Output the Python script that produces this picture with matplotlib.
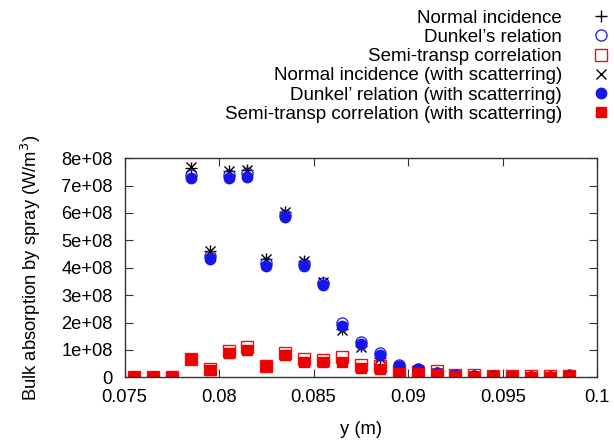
import matplotlib
matplotlib.use("Agg")
import matplotlib.pyplot as plt
from matplotlib.ticker import FixedLocator, FixedFormatter

plt.rcParams['font.family'] = ['Liberation Sans', 'DejaVu Sans']

# position along y (m)
y_pos = [0.0755, 0.0765, 0.0775, 0.0785, 0.0795, 0.0805, 0.0815, 0.0825,
         0.0835, 0.0845, 0.0855, 0.0865, 0.0875, 0.0885, 0.0895, 0.0905,
         0.0915, 0.0925, 0.0935, 0.0945, 0.0955, 0.0965, 0.0975, 0.0985]

# values in units of 1e8 W/m^3
normal = [0, 0, 0, 7.65, 4.60, 7.55, 7.57, 4.33, 6.02, 4.24, 3.47, 1.75,
          1.13, 0.70, 0.38, 0.27, 0.16, 0.08, 0.06, 0.04, 0.03, 0.02, 0.02, 0.06]
dunkel = [0, 0, 0, 7.39, 4.44, 7.39, 7.47, 4.16, 5.93, 4.15, 3.43, 1.97,
          1.30, 0.88, 0.45, 0.30, 0.17, 0.09, 0.06, 0.04, 0.03, 0.02, 0.02, 0.07]
semi = [0, 0, 0, 0.68, 0.29, 0.96, 1.12, 0.43, 0.88, 0.66, 0.63, 0.75,
        0.45, 0.41, 0.22, 0.18, 0.24, 0.10, 0.08, 0.05, 0.04, 0.04, 0.04, 0.04]
normal_sc = [0, 0, 0, 7.67, 4.62, 7.54, 7.57, 4.32, 6.02, 4.26, 3.49, 1.73,
             1.12, 0.69, 0.38, 0.27, 0.16, 0.08, 0.06, 0.04, 0.03, 0.02, 0.02, 0.06]
dunkel_sc = [0, 0, 0, 7.27, 4.32, 7.27, 7.30, 4.06, 5.84, 4.07, 3.37, 1.87,
             1.22, 0.81, 0.41, 0.29, 0.16, 0.08, 0.05, 0.03, 0.02, 0.02, 0.02, 0.06]
semi_sc = [0, 0, 0, 0.66, 0.27, 0.88, 1.00, 0.41, 0.81, 0.57, 0.57, 0.57,
           0.33, 0.30, 0.17, 0.15, 0.11, 0.04, 0.02, 0.02, 0.02, 0.02, 0.02, 0.02]

labels = ["Normal incidence", "Dunkel\u2019s relation", "Semi-transp correlation",
          "Normal incidence (with scatterring)", "Dunkel\u2019 relation (with scatterring)",
          "Semi-transp correlation (with scatterring)"]

x_ticks = [0.075, 0.08, 0.085, 0.09, 0.095, 0.1]
x_ticklabels = ["0.075", "0.08", "0.085", "0.09", "0.095", "0.1"]
y_ticks = [0, 1e8, 2e8, 3e8, 4e8, 5e8, 6e8, 7e8, 8e8]
y_ticklabels = ["0", "1e+08", "2e+08", "3e+08", "4e+08", "5e+08", "6e+08", "7e+08", "8e+08"]

FS = 13.2
LFS = 13.5
scale = 1e8
fig = plt.figure(figsize=(6.14, 4.43), dpi=100)
ax = fig.add_axes([124.5/614, 1-377.3/443, (597.3-124.5)/614, (377.3-158.2)/443])

def sc(v):
    return [a*scale for a in v]

h1, = ax.plot(y_pos, sc(normal), ls='none', marker='+', ms=8, mew=1.0, color='black', label=labels[0])
h2, = ax.plot(y_pos, sc(dunkel), ls='none', marker='o', ms=8, mew=1.0, mfc='none', mec='#2a2ae0', label=labels[1])
h3, = ax.plot(y_pos, sc(semi), ls='none', marker='s', ms=8, mew=1.0, mfc='none', mec='#ee1111', label=labels[2])
h4, = ax.plot(y_pos, sc(normal_sc), ls='none', marker='x', ms=7, mew=1.0, color='black', label=labels[3])
h5, = ax.plot(y_pos, sc(dunkel_sc), ls='none', marker='o', ms=7.5, color='#1515ee', label=labels[4])
h6, = ax.plot(y_pos, sc(semi_sc), ls='none', marker='s', ms=7.5, color='#ee0000', label=labels[5])

ax.set_xlim(0.075, 0.1)
ax.set_ylim(0, 8e8)
ax.xaxis.set_major_locator(FixedLocator(x_ticks))
ax.xaxis.set_major_formatter(FixedFormatter(x_ticklabels))
ax.yaxis.set_major_locator(FixedLocator(y_ticks))
ax.yaxis.set_major_formatter(FixedFormatter(y_ticklabels))
ax.tick_params(direction='in', length=6, width=0.8, top=True, right=True,
               labelsize=FS, colors='#333333', labelcolor='black')
ax.tick_params(axis='x', pad=8.5)
ax.tick_params(axis='y', pad=8.5)
for s in ax.spines.values():
    s.set_color('#333333')
    s.set_linewidth(1.0)

ax.set_xlabel("y (m)", fontsize=FS, labelpad=11)
ax.set_ylabel("Bulk absorption by spray (W/m$^3$)", fontsize=FS, labelpad=13)

leg = fig.legend(handles=[h1, h2, h3, h4, h5, h6], loc='upper right',
                 bbox_to_anchor=(610.7/614, 1-9.5/443), frameon=False, markerfirst=False,
                 fontsize=LFS, handlelength=1.0, handletextpad=1.6,
                 labelspacing=0.115, borderpad=0, borderaxespad=0)

fig.savefig("out.png", dpi=100)
